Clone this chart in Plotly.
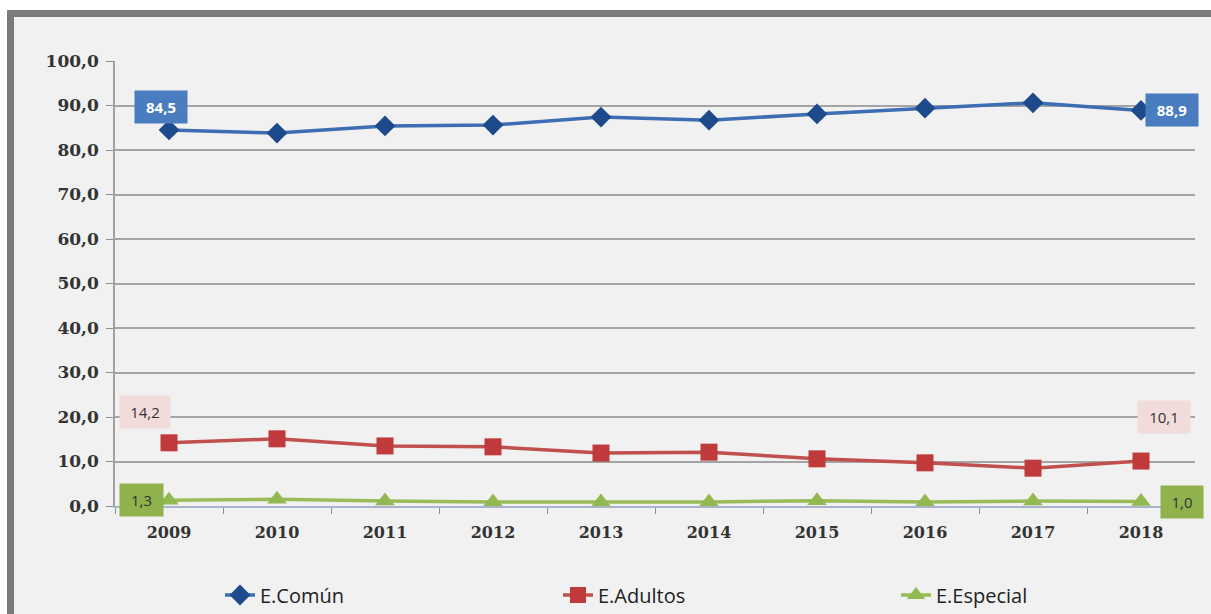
import plotly.graph_objects as go

years = ["2009", "2010", "2011", "2012", "2013", "2014", "2015", "2016", "2017", "2018"]
comun = [84.5, 83.8, 85.4, 85.6, 87.4, 86.7, 88.1, 89.4, 90.6, 88.9]
adultos = [14.2, 15.1, 13.5, 13.3, 11.9, 12.1, 10.6, 9.7, 8.5, 10.1]
especial = [1.3, 1.5, 1.1, 0.9, 0.9, 0.9, 1.2, 0.9, 1.1, 1.0]
y_ticks = [0, 10, 20, 30, 40, 50, 60, 70, 80, 90, 100]

W, H = 1211, 614
ML, MR, MT, MB = 115, 16, 61, 108
PW, PH = W - ML - MR, H - MT - MB


def px(x):
    return (x - ML) / PW


def py(y):
    return 1 - (y - MT) / PH


fig = go.Figure()

fig.add_trace(go.Scatter(
    x=years, y=comun, name="E.Común", mode="lines+markers",
    line=dict(color="#3d6db3", width=3.5),
    marker=dict(symbol="diamond", size=16, color="#1c4a8a"),
))
fig.add_trace(go.Scatter(
    x=years, y=adultos, name="E.Adultos", mode="lines+markers",
    line=dict(color="#c0504d", width=3.5),
    marker=dict(symbol="square", size=17, color="#c0393b"),
))
fig.add_trace(go.Scatter(
    x=years, y=especial, name="E.Especial", mode="lines+markers",
    line=dict(color="#9bbb59", width=3.5),
    marker=dict(symbol="triangle-up", size=17, color="#92b851"),
))


def fmt(v):
    return f"{v:.1f}".replace(".", ",")


# value labels on first and last points
labels = [
    (comun, 0, -8, 23, "#4a7dbf", "white", True, 40),
    (comun, 9, 31, 0, "#4a7dbf", "white", True, 40),
    (adultos, 0, -24, 31, "#f2dcdb", "#333333", False, 38),
    (adultos, 9, 23, 44, "#f2dcdb", "#333333", False, 40),
    (especial, 0, -28, 0, "#8fb24c", "#333333", False, 31),
    (especial, 9, 41, 0, "#8fb24c", "#333333", False, 30),
]
annots = []
for series, i, dx, dy, bg, fg, bold, w in labels:
    txt = fmt(series[i])
    annots.append(dict(
        x=i, y=series[i], xref="x", yref="y",
        text=f"<b>{txt}</b>" if bold else txt,
        showarrow=False, xshift=dx, yshift=dy, width=w,
        bgcolor=bg, borderpad=6,
        font=dict(family="Open Sans", size=15, color=fg),
    ))

# chart frame
frame = dict(
    type="rect", xref="paper", yref="paper", layer="below",
    x0=px(10.5), x1=px(1240), y0=py(13.5), y1=py(640),
    fillcolor="#f1f1f1", line=dict(color="#7b7b7b", width=7),
)

tick_font = dict(family="DejaVu Serif", size=17, color="#333333", weight="bold")

fig.update_layout(
    width=W, height=H,
    margin=dict(l=ML, r=MR, t=MT, b=MB, autoexpand=False),
    paper_bgcolor="white", plot_bgcolor="white",
    separators=",.",
    showlegend=True,
    shapes=[frame],
    annotations=annots,
    legend=dict(
        orientation="h", x=px(220), y=py(595), xanchor="left", yanchor="middle",
        entrywidth=293, entrywidthmode="pixels",
        font=dict(family="Open Sans", size=20, color="#222222"),
        bgcolor="rgba(0,0,0,0)",
    ),
    xaxis=dict(
        type="category", range=[-0.5, 9.5],
        tickson="boundaries", ticks="outside", ticklen=6, tickcolor="#8c8c8c",
        ticklabelstandoff=11,
        showline=True, linecolor="#a9b3c9", linewidth=1.5,
        showgrid=False,
        tickfont=dict(tick_font, size=16),
    ),
    yaxis=dict(
        range=[0, 100], tickvals=y_ticks, tickformat=".1f",
        ticks="outside", ticklen=7, tickcolor="#8c8c8c",
        ticklabelstandoff=4,
        showline=True, linecolor="#a0a0a0", linewidth=1.5,
        showgrid=True, gridcolor="#a4a4a4", gridwidth=1.5,
        zeroline=False,
        tickfont=tick_font,
    ),
)

fig.write_html("out.html")
